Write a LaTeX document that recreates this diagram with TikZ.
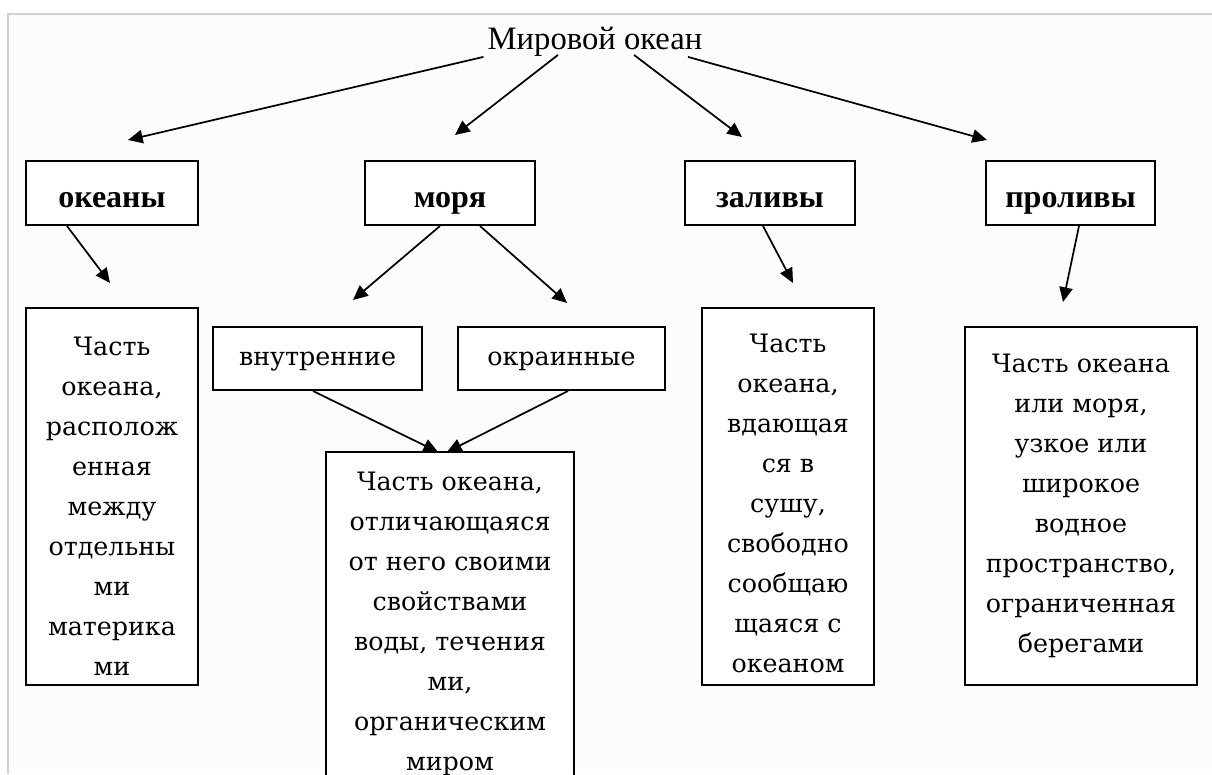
\documentclass[tikz,border=0pt]{standalone}
\usepackage{fontspec}
\setmainfont{Liberation Serif}
\newfontfamily\boxfont{DejaVu Serif}
\usetikzlibrary{arrows.meta}
\begin{document}
\begin{tikzpicture}[x=0.75pt,y=-0.75pt,
  box/.style={draw=black, line width=1.5pt, inner sep=0pt, fill=white},
  head/.style={box, font=\fontsize{24}{28}\selectfont\bfseries, minimum height=48pt,
               text height=24pt, text depth=3pt},
  dtext/.style={font=\boxfont\fontsize{19}{30}\selectfont, align=center, inner sep=0pt},
  desc/.style={box},
  kind/.style={box, font=\boxfont\fontsize{19}{22}\selectfont, minimum height=47.25pt,
               text height=15pt, text depth=4pt},
  arr/.style={line width=1.3pt, -{Triangle[length=11pt,width=10pt]}}]
\clip (0,0) rectangle (1212,774);
\fill[white] (0,0) rectangle (1212,774);
\fill[black!1] (8,14) rectangle (1212,774);
\draw[black!18, line width=1.5pt] (8,774) -- (8,14) -- (1212,14);

% title
\node[font=\fontsize{24.5}{28}\selectfont, inner sep=0pt] (title) at (595,42) {Мировой океан};

% first row
\node[head, minimum width=129pt]    (okeany)  at (112,193)    {океаны};
\node[head, minimum width=127.5pt]  (morya)   at (450,193)    {моря};
\node[head, minimum width=127.5pt]  (zalivy)  at (770,193)    {заливы};
\node[head, minimum width=126.75pt] (prolivy) at (1070.5,193) {проливы};

% seas kinds
\node[kind, minimum width=156.75pt] (vnutr)  at (317.5,358.5) {внутренние};
\node[kind, minimum width=155.25pt] (okrain) at (561.5,358.5) {окраинные};

% descriptions
\node[desc, minimum width=129pt, minimum height=282.75pt,
  label={[dtext, yshift=-7.5pt]center:{Часть\\океана,\\располож\\енная\\между\\отдельны\\ми\\материка\\ми}}]
  (d1) at (112,496.5) {};
\node[desc, minimum width=186pt, minimum height=256.5pt,
  label={[dtext, yshift=-1pt]center:{Часть океана,\\отличающаяся\\от него своими\\свойствами\\воды, течения\\ми,\\органическим\\миром}}]
  (d2) at (450,623) {};
\node[desc, minimum width=129pt, minimum height=282.75pt,
  label={[dtext, yshift=-5pt]center:{Часть\\океана,\\вдающая\\ся в\\сушу,\\свободно\\сообщаю\\щаяся с\\океаном}}]
  (d3) at (788,496.5) {};
\node[desc, minimum width=174pt, minimum height=268.5pt,
  label={[dtext]center:{Часть океана\\или моря,\\узкое или\\широкое\\водное\\пространство,\\ограниченная\\берегами}}]
  (d4) at (1081,506) {};

% arrow tips
\coordinate (t1) at (128,140);
\coordinate (t2) at (455,135);
\coordinate (t3) at (742,137);
\coordinate (t4) at (987,140);
\coordinate (t5) at (110,283);
\coordinate (t6) at (353,300);
\coordinate (t7) at (567,303);
\coordinate (t8) at (438,452);
\coordinate (t9) at (447,452);
\coordinate (t10) at (793,283);
\coordinate (t11) at (1063,302);

% connectors
\draw[arr] ([shift={(-4,0)}]title.south west) -- (t1);
\draw[arr] ([shift={(-37,-2)}]title.south) -- (t2);
\draw[arr] ([shift={(39,-2)}]title.south) -- (t3);
\draw[arr] ([shift={(93,0)}]title.south) -- (t4);
\draw[arr] ([shift={(-45,0)}]okeany.south) -- (t5);
\draw[arr] ([shift={(-10,0)}]morya.south) -- (t6);
\draw[arr] ([shift={(30,0)}]morya.south) -- (t7);
\draw[arr] ([shift={(-4.5,0)}]vnutr.south) -- (t8);
\draw[arr] ([shift={(6.5,0)}]okrain.south) -- (t9);
\draw[arr] ([shift={(-7,0)}]zalivy.south) -- (t10);
\draw[arr] ([shift={(8.5,0)}]prolivy.south) -- (t11);
\end{tikzpicture}
\end{document}
